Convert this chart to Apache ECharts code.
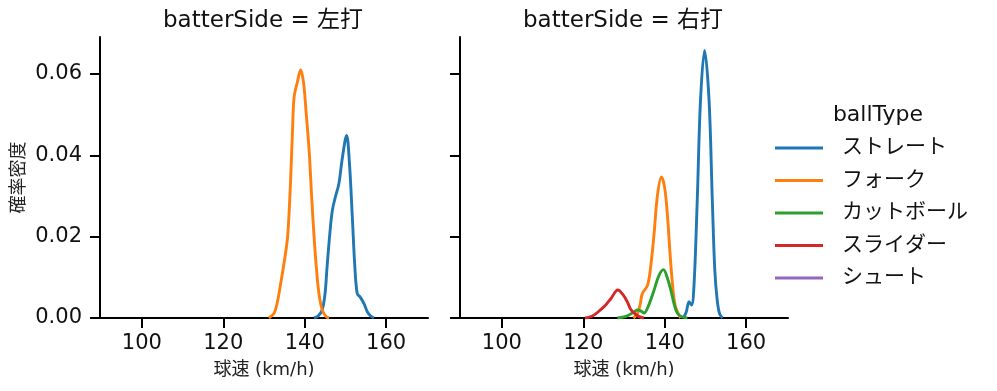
<!DOCTYPE html>
<html><head><meta charset="utf-8">
<script src="https://cdn.jsdelivr.net/npm/echarts@6/dist/echarts.min.js"></script>
<style>html,body{margin:0;padding:0;background:#fff}#c{width:997px;height:391px}</style>
</head><body><div id="c"></div>
<script>
const facets = ['batterSide = 左打', 'batterSide = 右打'];
const ballTypes = ['ストレート', 'フォーク', 'カットボール', 'スライダー', 'シュート'];
const colors = ['#1f77b4', '#ff7f0e', '#2ca02c', '#d62728', '#9467bd'];
const xTicks = [100, 120, 140, 160];
const yTicks = [0, 0.02, 0.04, 0.06];

// 左打
const leftStraight = [[142.3,0],[143.3,0.0005],[144.3,0.002],[145,0.006],[145.5,0.0126],[146.2,0.021],[146.8,0.0265],[147.6,0.030],[148.4,0.033],[149.2,0.039],[150.3,0.0449],[151,0.038],[151.7,0.0249],[152.3,0.013],[152.9,0.006],[153.6,0.0052],[154.6,0.0035],[155.4,0.0015],[156.2,0.0005],[157,0]];
const leftFork = [[131.2,0],[132.5,0.0012],[133.3,0.004],[134.1,0.0085],[135,0.014],[135.8,0.020],[136.5,0.033],[137,0.046],[137.4,0.0543],[138.2,0.058],[139,0.061],[139.7,0.058],[140.4,0.050],[141.1,0.041],[141.7,0.030],[142.3,0.020],[142.9,0.012],[143.5,0.006],[144.3,0.002],[145.2,0.0004],[146,0]];
// 右打
const rightStraight = [[144.6,0],[145.3,0.0015],[146,0.004],[146.6,0.0032],[147.2,0.008],[148,0.029],[148.8,0.0535],[149.8,0.0658],[150.9,0.0535],[151.7,0.029],[152.3,0.012],[152.9,0.0044],[153.5,0.001],[154.2,0]];
const rightFork = [[132.3,0],[133.3,0.001],[134,0.0035],[134.5,0.006],[135.8,0.0081],[136.6,0.013],[137.4,0.0208],[138.2,0.030],[139.2,0.0347],[140,0.032],[140.7,0.0249],[141.3,0.016],[141.9,0.0085],[142.6,0.003],[143.9,0]];
const rightCutter = [[128.4,0],[130.5,0.0004],[132.5,0.0015],[133.3,0.002],[134.2,0.0017],[134.9,0.0012],[136,0.003],[137.4,0.0069],[138.6,0.0105],[139.7,0.0119],[140.6,0.010],[141.5,0.0069],[142.3,0.0035],[143.1,0.0012],[144.2,0.0003],[145.6,0]];
const rightSlider = [[120.4,0],[121.5,0.0002],[122.6,0.0007],[124,0.0018],[125.5,0.0032],[126.8,0.0048],[128.5,0.0069],[129.7,0.0058],[130.8,0.004],[131.6,0.0022],[132.5,0.0012],[133.6,0.0004],[134.9,0]];
const rightShoot = [];

const FONT = '"DejaVu Sans", "Noto Sans CJK JP", sans-serif';
const panelData = [
  [leftStraight, leftFork, [], [], []],
  [rightStraight, rightFork, rightCutter, rightSlider, rightShoot]
];

const chart = echarts.init(document.getElementById('c'), null, {renderer: 'canvas'});
const grids = [
  {left: 100, top: 37, width: 328, height: 281},
  {left: 460, top: 37, width: 328, height: 281}
];
function xAxisFor(i) {
  return {
    type: 'value', gridIndex: i, min: 89.7, max: 170.3,
    name: '球速 (km/h)', nameLocation: 'middle', nameGap: 43,
    nameTextStyle: {fontFamily: FONT, fontSize: 18, color: '#222'},
    axisLine: {show: true, onZero: false, lineStyle: {color: '#000', width: 2}},
    axisTick: {show: true, length: 10, lineStyle: {color: '#000', width: 2}, customValues: xTicks},
    axisLabel: {fontFamily: FONT, fontSize: 21, color: '#111', margin: 15, customValues: xTicks},
    splitLine: {show: false}
  };
}
function yAxisFor(i) {
  return {
    type: 'value', gridIndex: i, min: 0, max: 0.0691,
    name: i === 0 ? '確率密度' : '', nameLocation: 'middle', nameGap: 72,
    nameTextStyle: {fontFamily: FONT, fontSize: 18, color: '#222'},
    axisLine: {show: true, lineStyle: {color: '#000', width: 2}},
    axisTick: {show: true, length: 10, lineStyle: {color: '#000', width: 2}, customValues: yTicks},
    axisLabel: {show: i === 0, fontFamily: FONT, fontSize: 21, color: '#111', margin: 18,
      customValues: yTicks, formatter: v => v.toFixed(2)},
    splitLine: {show: false}
  };
}
const series = [];
for (let p = 0; p < 2; p++) {
  for (let k = 0; k < ballTypes.length; k++) {
    series.push({
      type: 'line', name: ballTypes[k], xAxisIndex: p, yAxisIndex: p,
      data: panelData[p][k], smooth: 0.35, showSymbol: false, symbol: 'none',
      lineStyle: {color: colors[k], width: 2.9}, itemStyle: {color: colors[k]},
      animation: false
    });
  }
}
chart.setOption({
  animation: false,
  color: colors,
  title: [
    {text: facets[0], left: 258, top: 5, textAlign: 'center', textStyle: {fontFamily: FONT, fontSize: 23, fontWeight: 'normal', color: '#111'}},
    {text: facets[1], left: 618, top: 5, textAlign: 'center', textStyle: {fontFamily: FONT, fontSize: 23, fontWeight: 'normal', color: '#111'}},
    {text: 'ballType', left: 873, top: 99, textAlign: 'center', textStyle: {fontFamily: FONT, fontSize: 22, fontWeight: 'normal', color: '#111'}}
  ],
  legend: {
    data: ballTypes, orient: 'vertical', left: 775, top: 137.5, padding: 0,
    icon: 'rect', itemWidth: 48, itemHeight: 3, itemGap: 11.5,
    textStyle: {fontFamily: FONT, fontSize: 21, color: '#111', lineHeight: 21, padding: [0, 0, 0, 14]},
    selectedMode: false
  },
  grid: grids,
  xAxis: [xAxisFor(0), xAxisFor(1)],
  yAxis: [yAxisFor(0), yAxisFor(1)],
  series: series
});
</script></body></html>
